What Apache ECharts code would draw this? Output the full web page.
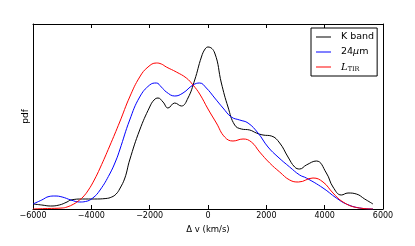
<!DOCTYPE html>
<html>
<head>
<meta charset="utf-8">
<script src="https://cdn.jsdelivr.net/npm/echarts@6/dist/echarts.min.js"></script>
<style>
html,body{margin:0;padding:0;background:#fff;}
#c{width:415px;height:246px;}
</style>
</head>
<body>
<div id="c"></div>
<script>
// Tick labels on the x axis
var xTicks = [-6000, -4000, -2000, 0, 2000, 4000, 6000];
var seriesNames = ['K band', '24μm', 'L_TIR'];

// Values: [velocity (km/s), pdf (arbitrary units)]
var kband = [[-6000,5],[-5700,4],[-5400,3],[-5100,4],[-4834,7],[-4700,9],[-4300,10],[-3900,10],[-3500,10.5],[-3300,12],[-3150,15],[-3030,20],[-2850,31],[-2685,49],[-2342,79],[-2000,102],[-1850,109],[-1714,111],[-1543,107],[-1371,101],[-1142,106],[-912,103],[-686,111],[-456,129],[-226,152],[-100,160],[0,162],[230,156],[458,126],[686,102],[915,84],[1145,80],[1430,79],[1660,76],[1885,74],[2173,73],[2458,66],[2743,52],[2972,42],[3143,40],[3372,44],[3715,48],[4058,36],[4286,22],[4572,14],[4800,16],[5087,15],[5372,10],[5657,5]];

var mu24 = [[-6000,5],[-5700,9],[-5450,12.5],[-5250,13],[-5000,12],[-4700,9],[-4400,7],[-4200,7.5],[-3950,11],[-3700,19],[-3370,35],[-3150,49],[-3027,59],[-2685,89],[-2342,112],[-2000,124],[-1770,126],[-1600,122],[-1428,117],[-1142,113],[-857,116],[-514,124],[-285,126],[-57,121],[230,111],[515,101],[800,92],[1085,89],[1372,86],[1714,76],[2057,62],[2400,52],[2800,42],[3143,34],[3372,31],[3943,21],[4400,11],[4743,5],[5200,1],[5657,0]];

var ltir = [[-6000,0],[-5500,0.5],[-5000,1],[-4834,2],[-4600,5],[-4450,8],[-4286,12],[-4100,19],[-3900,29],[-3700,41],[-3370,63],[-3027,87],[-2685,112],[-2342,132],[-2057,142],[-1770,146],[-1600,145],[-1428,142],[-1085,137],[-743,131],[-514,124],[-285,115],[0,100],[287,86],[572,72],[857,68],[1200,70],[1487,67],[1771,57],[2114,46],[2458,37],[2800,29],[3100,27],[3600,31],[3943,27],[4286,16],[4629,7],[5087,1.5],[5657,0]];

var chart = echarts.init(document.getElementById('c'), null, {renderer: 'canvas'});
var font = 'DejaVu Sans';
var option = {
  animation: false,
  backgroundColor: '#fff',
  grid: {left: 33, right: 32, top: 24, bottom: 37, containLabel: false},
  xAxis: [{
    type: 'value', min: xTicks[0], max: xTicks[xTicks.length - 1], interval: 2000,
    position: 'bottom',
    name: 'Δ v (km/s)', nameLocation: 'middle', nameGap: 15,
    nameTextStyle: {fontFamily: font, fontSize: 8.5, color: '#000'},
    axisLine: {show: true, onZero: false, lineStyle: {color: '#000', width: 1}},
    axisTick: {show: true, inside: true, length: 4, lineStyle: {color: '#000'}},
    axisLabel: {show: true, margin: 3, fontFamily: font, fontSize: 8, color: '#000',
      formatter: function (v) { return v < 0 ? '\u2212' + Math.abs(v) : String(v); }},
    splitLine: {show: false}
  }, {
    type: 'value', min: xTicks[0], max: xTicks[xTicks.length - 1], interval: 2000,
    position: 'top',
    axisLine: {show: true, onZero: false, lineStyle: {color: '#000', width: 1}},
    axisTick: {show: true, inside: true, length: 4, lineStyle: {color: '#000'}},
    axisLabel: {show: false},
    splitLine: {show: false}
  }],
  yAxis: [{
    type: 'value', min: 0, max: 185, position: 'left',
    name: 'pdf', nameLocation: 'middle', nameGap: 3, nameRotate: 90,
    nameTextStyle: {fontFamily: font, fontSize: 9, color: '#000'},
    axisLine: {show: true, onZero: false, lineStyle: {color: '#000', width: 1}},
    axisTick: {show: false}, axisLabel: {show: false}, splitLine: {show: false}
  }, {
    type: 'value', min: 0, max: 185, position: 'right',
    axisLine: {show: true, onZero: false, lineStyle: {color: '#000', width: 1}},
    axisTick: {show: false}, axisLabel: {show: false}, splitLine: {show: false}
  }],
  legend: {
    orient: 'vertical', left: 311, top: 28,
    padding: [3, 3, 3, 5],
    itemGap: 3, itemWidth: 15, itemHeight: 1, icon: 'rect',
    borderColor: '#000', borderWidth: 1, borderRadius: 0,
    backgroundColor: '#fff',
    data: seriesNames,
    textStyle: {
      fontFamily: font, fontSize: 9.5, color: '#000', lineHeight: 12, padding: [0, 0, 0, 5],
      rich: {
        n: {fontFamily: font, fontSize: 9.5, color: '#000', lineHeight: 12},
        mu: {fontFamily: font, fontSize: 9.5, fontStyle: 'italic', color: '#000', lineHeight: 12},
        l: {fontFamily: 'DejaVu Serif', fontSize: 10, fontStyle: 'italic', color: '#000', lineHeight: 12},
        sub: {fontFamily: 'DejaVu Serif', fontSize: 6.5, color: '#000', lineHeight: 12, verticalAlign: 'bottom'}
      }
    },
    formatter: function (name) {
      if (name === 'L_TIR') return '{l|L}{sub|TIR}';
      if (name === '24μm') return '{n|24}{mu|μ}{n|m}';
      return '{n|' + name + '}';
    }
  },
  series: [
    {name: seriesNames[0], type: 'line', data: kband, smooth: 0.45, showSymbol: false, symbol: 'none',
      lineStyle: {color: '#000000', width: 1}, itemStyle: {color: '#000000'}},
    {name: seriesNames[1], type: 'line', data: mu24, smooth: 0.45, showSymbol: false, symbol: 'none',
      lineStyle: {color: '#0000ff', width: 1}, itemStyle: {color: '#0000ff'}},
    {name: seriesNames[2], type: 'line', data: ltir, smooth: 0.45, showSymbol: false, symbol: 'none',
      lineStyle: {color: '#ff0000', width: 1}, itemStyle: {color: '#ff0000'}}
  ]
};
chart.setOption(option);
</script>
</body>
</html>
